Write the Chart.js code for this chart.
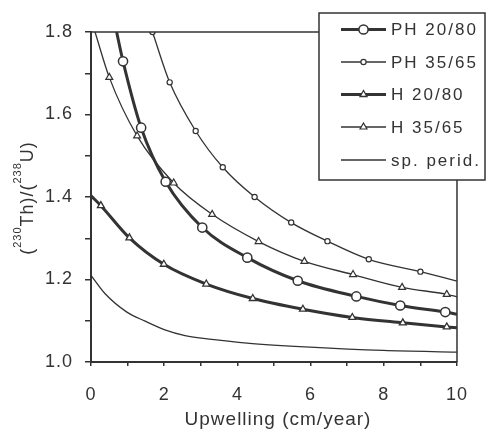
<!doctype html>
<html lang="en">
<head>
<meta charset="utf-8">
<title>(230Th)/(238U) vs upwelling</title>
<script src="https://cdn.jsdelivr.net/npm/chart.js@4.4.1/dist/chart.umd.min.js"></script>
<style>
  html, body { margin: 0; padding: 0; background: #fff; }
</style>
</head>
<body>
<canvas id="chart" width="486" height="429"></canvas>
<script>
// values (x = upwelling cm/yr, y = activity ratio)
const ph2080x = [0.70, 0.875, 1.37, 2.04, 3.04, 4.27, 5.65, 7.25, 8.45, 9.68, 10];
const ph2080y = [1.80, 1.729, 1.568, 1.437, 1.326, 1.253, 1.197, 1.159, 1.137, 1.121, 1.116];

const ph3565x = [1.68, 2.15, 2.86, 3.60, 4.47, 5.47, 6.46, 7.59, 9.00, 10];
const ph3565y = [1.80, 1.678, 1.560, 1.472, 1.400, 1.338, 1.293, 1.249, 1.219, 1.196];

const h2080x = [0, 0.27, 1.05, 1.99, 3.15, 4.42, 5.79, 7.14, 8.52, 9.72, 10];
const h2080y = [1.403, 1.379, 1.301, 1.237, 1.189, 1.154, 1.128, 1.108, 1.095, 1.085, 1.083];

const h3565x = [0.11, 0.50, 1.26, 2.26, 3.31, 4.58, 5.83, 7.16, 8.50, 9.72, 10];
const h3565y = [1.80, 1.690, 1.548, 1.434, 1.358, 1.292, 1.244, 1.212, 1.181, 1.164, 1.158];

const speridx = [0, 0.38, 0.98, 1.48, 2.02, 2.57, 3.30, 4.26, 5.99, 7.99, 10];
const speridy = [1.210, 1.166, 1.121, 1.099, 1.078, 1.064, 1.055, 1.046, 1.036, 1.028, 1.024];

const xTicks = [0, 2, 4, 6, 8, 10];
const yTicks = [1.0, 1.2, 1.4, 1.6, 1.8];

const ink = '#333';
const font = '"Liberation Sans", Arial, sans-serif';

function radii(xs, size, markFirst) {
  return xs.map((_, i) => (i === 0 && !markFirst) || i === xs.length - 1 ? 0 : size);
}

function series(label, xs, ys, o) {
  return {
    label: label,
    data: xs.map((x, i) => ({ x: x, y: ys[i] })),
    borderColor: ink,
    borderWidth: o.width,
    pointStyle: o.style || 'circle',
    pointRadius: radii(xs, o.size || 0, o.markFirst),
    pointHoverRadius: 0,
    pointBackgroundColor: '#fff',
    pointBorderColor: ink,
    pointBorderWidth: o.pbw || 1.3,
    cubicInterpolationMode: 'monotone',
    fill: false
  };
}

const datasets = [
  series('PH 20/80', ph2080x, ph2080y, { width: 3, size: 4.6, pbw: 1.5 }),
  series('PH 35/65', ph3565x, ph3565y, { width: 1.3, size: 2.6, markFirst: true, pbw: 1.2 }),
  series('H 20/80', h2080x, h2080y, { width: 3, size: 4, style: 'triangle', pbw: 1.3 }),
  series('H 35/65', h3565x, h3565y, { width: 1.3, size: 4, style: 'triangle', pbw: 1.2 }),
  series('sp. perid.', speridx, speridy, { width: 1.3, size: 0 })
];

function marker(ctx, style, r, x, y, bw) {
  if (r <= 0) return;
  ctx.beginPath();
  if (style === 'triangle') {
    ctx.moveTo(x, y - r);
    ctx.lineTo(x + r * 0.866, y + r * 0.5);
    ctx.lineTo(x - r * 0.866, y + r * 0.5);
    ctx.closePath();
  } else {
    ctx.arc(x, y, r, 0, Math.PI * 2);
  }
  ctx.fillStyle = '#fff';
  ctx.fill();
  ctx.lineWidth = bw;
  ctx.strokeStyle = ink;
  ctx.stroke();
}

const spacing = {
  id: 'spacing',
  beforeLayout(chart) { chart.ctx.letterSpacing = '1px'; },
  beforeDraw(chart) { chart.ctx.letterSpacing = '1px'; }
};

const extras = {
  id: 'extras',
  afterDraw(chart) {
    const ctx = chart.ctx;
    const a = chart.chartArea;
    ctx.save();

    // top and right frame
    ctx.strokeStyle = ink;
    ctx.lineWidth = 1.5;
    ctx.beginPath();
    ctx.moveTo(a.left, a.top);
    ctx.lineTo(a.right, a.top);
    ctx.lineTo(a.right, a.bottom);
    ctx.stroke();

    // legend box
    ctx.fillStyle = '#fff';
    ctx.fillRect(319, 13, 166, 167);
    ctx.lineWidth = 1.5;
    ctx.strokeRect(319, 13, 166, 167);

    ctx.letterSpacing = '2px';
    const rows = [29.5, 62, 94.5, 127, 160];
    chart.data.datasets.forEach((ds, i) => {
      const y = rows[i];
      ctx.strokeStyle = ink;
      ctx.lineWidth = ds.borderWidth;
      ctx.beginPath();
      ctx.moveTo(341, y);
      ctx.lineTo(386, y);
      ctx.stroke();
      const r = Math.max.apply(null, ds.pointRadius);
      marker(ctx, ds.pointStyle, r, 363.5, y, ds.pointBorderWidth);
      ctx.fillStyle = ink;
      ctx.font = '17px ' + font;
      ctx.textBaseline = 'middle';
      ctx.textAlign = 'left';
      ctx.fillText(ds.label, 391, y + 1);
    });

    // x title
    ctx.letterSpacing = '1px';
    ctx.fillStyle = ink;
    ctx.font = '19px ' + font;
    ctx.textAlign = 'center';
    ctx.textBaseline = 'alphabetic';
    ctx.fillText('Upwelling (cm/year)', (a.left + a.right) / 2 + 4, 425);

    // y title with superscripts, rotated
    const parts = [['(', 0], ['230', 1], ['Th)/(', 0], ['238', 1], ['U)', 0]];
    const big = '18px ' + font, small = '11px ' + font;
    let total = 0;
    parts.forEach(p => { ctx.font = p[1] ? small : big; total += ctx.measureText(p[0]).width; });
    ctx.translate(33, 198);
    ctx.rotate(-Math.PI / 2);
    ctx.textAlign = 'left';
    let x = -total / 2;
    parts.forEach(p => {
      ctx.font = p[1] ? small : big;
      ctx.fillText(p[0], x, p[1] ? -12 : 0);
      x += ctx.measureText(p[0]).width;
    });
    ctx.restore();
  }
};

new Chart(document.getElementById('chart'), {
  type: 'line',
  data: { datasets: datasets },
  plugins: [spacing, extras],
  options: {
    responsive: false,
    animation: false,
    events: [],
    layout: { padding: { left: 0, right: 29, top: 32, bottom: 0 } },
    plugins: { legend: { display: false }, tooltip: { enabled: false } },
    scales: {
      x: {
        type: 'linear',
        min: 0, max: 10,
        afterFit(s) { s.height = 67; },
        afterBuildTicks(s) { s.ticks = [0,1,2,3,4,5,6,7,8,9,10].map(v => ({ value: v })); },
        ticks: {
          color: ink,
          font: { family: font, size: 18 },
          padding: 18,
          maxRotation: 0,
          autoSkip: false,
          callback: v => xTicks.includes(v) ? String(v) : ''
        },
        grid: { drawOnChartArea: false, tickLength: 4, color: ink, lineWidth: 1.5 },
        border: { color: ink, width: 2 }
      },
      y: {
        type: 'linear',
        min: 1.0, max: 1.8,
        afterFit(s) { s.width = 91; },
        afterBuildTicks(s) { s.ticks = [1.0,1.1,1.2,1.3,1.4,1.5,1.6,1.7,1.8].map(v => ({ value: v })); },
        ticks: {
          color: ink,
          font: { family: font, size: 18 },
          padding: 12,
          autoSkip: false,
          callback: v => yTicks.some(t => Math.abs(t - v) < 1e-6) ? v.toFixed(1) : ''
        },
        grid: { drawOnChartArea: false, tickLength: 6, color: ink, lineWidth: 1.5 },
        border: { color: ink, width: 2 }
      }
    }
  }
});
</script>
</body>
</html>
